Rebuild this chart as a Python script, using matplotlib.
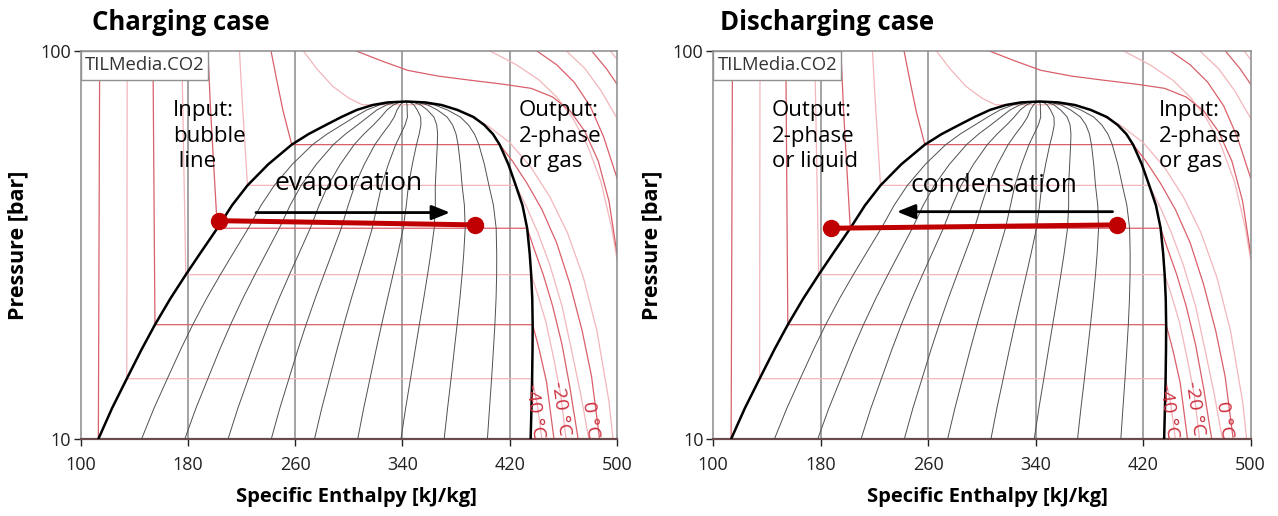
import matplotlib
matplotlib.use('Agg')
import matplotlib.pyplot as plt
from matplotlib.patches import Rectangle
from matplotlib.ticker import FixedLocator, NullLocator, FixedFormatter

plt.rcParams['font.family'] = ['Open Sans', 'DejaVu Sans']

# saturation dome of CO2 (p in bar, h in kJ/kg)
p_sat = [10.0, 12.0, 14.3, 17.0, 19.7, 23.0, 26.5, 30.0, 34.9, 40.0, 45.0,
         51.0, 57.3, 61.0, 64.4, 67.5, 70.4, 72.5, 73.6, 74.0]
h_bubble = [113.3, 123.5, 134.5, 145.5, 155.5, 167.0, 178.5, 189.0, 202.0, 213.0, 224.5,
            240.0, 257.5, 270.0, 283.0, 294.5, 306.0, 318.0, 329.0, 343.0]
h_dew = [435.6, 436.2, 436.7, 437.0, 437.1, 436.8, 436.0, 434.9, 433.0, 429.5, 424.5,
         419.0, 412.5, 407.5, 401.0, 393.0, 381.0, 369.0, 357.0, 343.0]
qualities = [0.1, 0.2, 0.3, 0.4, 0.5, 0.6, 0.7, 0.8, 0.9]

# isotherms as (h, p) points
iso_m40 = [(114.3, 100), (113.3, 10)]
iso_m30 = [(134.8, 100), (134.5, 14.3), (436.7, 14.3), (440.5, 12.3), (444, 10)]
iso_m20 = [(154, 100), (155.5, 19.7), (437.1, 19.7), (442, 17), (447.5, 14), (453, 10)]
iso_m10 = [(175.5, 100), (178.5, 26.5), (436, 26.5), (441, 23.5), (447, 20), (453, 16),
           (458, 13), (462, 10)]
iso_0 = [(195, 100), (197, 70), (202, 34.9), (433, 34.9), (438, 31), (445, 26.5), (452, 22),
         (459, 17.5), (465, 13.5), (471, 10)]
iso_10 = [(218.5, 100), (220.5, 75), (224.5, 45), (424.5, 45), (432, 40), (441, 34), (450, 28),
          (459, 22), (466, 17), (473, 13), (479, 10)]
iso_20 = [(242, 100), (246, 85), (251, 70), (257.5, 57.3), (412.5, 57.3), (422, 52), (433, 45.5),
          (444, 39), (455, 32), (465, 25), (474, 19), (481, 14.5), (487, 10)]
iso_30 = [(266, 100), (276, 90), (288, 81), (300, 75.5), (310, 72.6), (370, 72.6), (388, 68.5),
          (404, 64), (420, 58), (436, 50), (450, 42), (463, 34), (475, 26), (485, 19),
          (494, 12.5), (497, 10)]
iso_40 = [(305, 100), (325, 94), (344, 89), (367, 86), (390, 84), (415, 82), (436, 80),
          (452, 76), (465, 70), (476, 62), (486, 52), (494, 41), (500, 30)]
iso_50 = [(405, 100), (425, 92), (442, 84), (455, 76), (467, 67), (478, 57), (488, 46),
          (496, 35), (500, 29)]
iso_60 = [(440, 100), (455, 92), (468, 83), (480, 72), (490, 60), (500, 47)]
iso_70 = [(462, 100), (476, 90), (488, 79), (500, 67)]
iso_80 = [(481, 100), (492, 90), (500, 82)]
iso_90 = [(495, 100), (500, 95)]

iso_dark = [iso_m40, iso_m20, iso_0, iso_20, iso_40, iso_60, iso_80]
iso_light = [iso_m30, iso_m10, iso_10, iso_30, iso_50, iso_70, iso_90]

iso_labels = ['-40 °C', '-20 °C', '0 °C']
iso_label_h = [438.9, 458.3, 480.6]
iso_label_p = [11.8, 12.0, 11.2]

x_ticks = [100, 180, 260, 340, 420, 500]
y_ticks = [10, 100]

# process lines
charge_h = [203.3, 394.1]
charge_p = [36.5, 35.6]
charge_arrow_h = [230.8, 375.5]
charge_arrow_p = [38.3, 38.3]
discharge_h = [187.6, 400.3]
discharge_p = [34.9, 35.6]
discharge_arrow_h = [397.2, 236.7]
discharge_arrow_p = [38.5, 38.5]

DARK = '#d9606a'
LIGHT = '#f2b6bb'
GRID = '#8a8a8a'
ARROW = dict(arrowstyle='-|>,head_length=0.55,head_width=0.22', color='black',
             lw=2, mutation_scale=20, shrinkA=0, shrinkB=0)


def draw_diagram(ax):
    for x in x_ticks[1:-1]:
        ax.axvline(x, color=GRID, lw=1.1, zorder=1)
    for iso in iso_light:
        ax.plot([a for a, b in iso], [b for a, b in iso], color=LIGHT, lw=0.9, zorder=2)
    for iso in iso_dark:
        ax.plot([a for a, b in iso], [b for a, b in iso], color=DARK, lw=0.9, zorder=2)
    for q in qualities:
        hq = [hl + q * (hv - hl) for hl, hv in zip(h_bubble, h_dew)]
        ax.plot(hq, p_sat, color='#505050', lw=0.7, zorder=3)
    ax.plot(h_bubble + h_dew[::-1], p_sat + p_sat[::-1], color='black', lw=1.8, zorder=4)
    for lab, h, p in zip(iso_labels, iso_label_h, iso_label_p):
        ax.text(h, p, lab, color='#cc3040', fontsize=14, rotation=-82,
                ha='center', va='center', zorder=5)

    ax.set_xlim(100, 500)
    ax.set_yscale('log')
    ax.set_ylim(10, 100)
    ax.xaxis.set_major_locator(FixedLocator(x_ticks))
    ax.yaxis.set_major_locator(FixedLocator(y_ticks))
    ax.yaxis.set_major_formatter(FixedFormatter(['10', '100']))
    ax.yaxis.set_minor_locator(NullLocator())
    ax.tick_params(axis='both', labelsize=13, colors='#222222', length=5, width=1,
                   direction='out')
    ax.tick_params(axis='x', pad=7)
    ax.tick_params(axis='y', pad=2)
    for s in ax.spines.values():
        s.set_color(GRID)
        s.set_linewidth(1.1)
    ax.spines['bottom'].set_color('#6a4a4a')
    ax.spines['bottom'].set_linewidth(1.6)

    ax.add_patch(Rectangle((0, 0.9245), 0.238, 0.0755, transform=ax.transAxes,
                           facecolor='white', edgecolor='#909090', lw=1, zorder=6))
    ax.text(0.009, 0.962, 'TILMedia.CO2', transform=ax.transAxes, fontsize=13.3,
            color='#333333', va='center', ha='left', zorder=7)


fig = plt.figure(figsize=(12.78, 5.16), dpi=100)
ax1 = fig.add_axes([0.0630, 0.1492, 0.4198, 0.7525])
ax2 = fig.add_axes([0.5581, 0.1492, 0.4205, 0.7525])

for ax in (ax1, ax2):
    draw_diagram(ax)

# charging
ax1.plot(charge_h, charge_p, color='#c00000', lw=3.6, marker='o', markersize=11.5, zorder=8)
ax1.annotate('', xy=(charge_arrow_h[1], charge_arrow_p[1]),
             xytext=(charge_arrow_h[0], charge_arrow_p[0]), arrowprops=ARROW, zorder=8)
ax1.text(0.499, 0.657, 'evaporation', transform=ax1.transAxes, fontsize=19,
         ha='center', va='center', zorder=8)
ax1.text(0.172, 0.78, 'Input:\nbubble\n line', transform=ax1.transAxes, fontsize=16,
         ha='left', va='center', linespacing=1.3, zorder=8)
ax1.text(0.817, 0.78, 'Output:\n2-phase\nor gas', transform=ax1.transAxes, fontsize=16,
         ha='left', va='center', linespacing=1.3, zorder=8)

# discharging
ax2.plot(discharge_h, discharge_p, color='#c00000', lw=3.6, marker='o', markersize=11.5, zorder=8)
ax2.annotate('', xy=(discharge_arrow_h[1], discharge_arrow_p[1]),
             xytext=(discharge_arrow_h[0], discharge_arrow_p[0]), arrowprops=ARROW, zorder=8)
ax2.text(0.522, 0.654, 'condensation', transform=ax2.transAxes, fontsize=19,
         ha='center', va='center', zorder=8)
ax2.text(0.109, 0.78, 'Output:\n2-phase\nor liquid', transform=ax2.transAxes, fontsize=16,
         ha='left', va='center', linespacing=1.3, zorder=8)
ax2.text(0.8295, 0.78, 'Input:\n2-phase\nor gas', transform=ax2.transAxes, fontsize=16,
         ha='left', va='center', linespacing=1.3, zorder=8)

# titles and axis labels
fig.text(92 / 1278, 1 - 22 / 516, 'Charging case', fontsize=18.5, fontweight='bold',
         ha='left', va='center')
fig.text(720 / 1278, 1 - 22 / 516, 'Discharging case', fontsize=18.5, fontweight='bold',
         ha='left', va='center')
for xc in (356, 987):
    fig.text(xc / 1278, 1 - 497 / 516, 'Specific Enthalpy [kJ/kg]', fontsize=14.5,
             fontweight='bold', ha='center', va='center')
for xc in (18, 652):
    fig.text(xc / 1278, 1 - 245 / 516, 'Pressure [bar]', fontsize=15.5, fontweight='bold',
             ha='center', va='center', rotation=90)

fig.savefig('out.png', dpi=100)
